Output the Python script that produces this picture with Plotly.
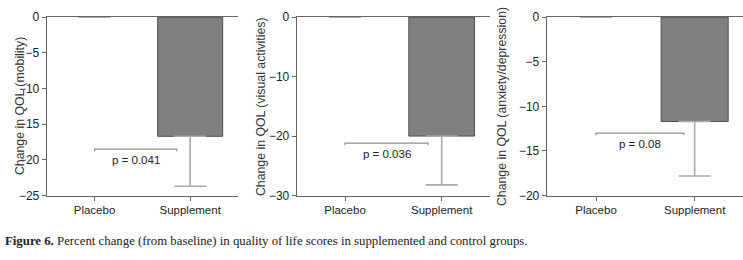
import plotly.graph_objects as go

categories = ["Placebo", "Supplement"]
titles = ["Change in QOL (mobility)", "Change in QOL (visual activities)", "Change in QOL (anxiety/depression)"]
means = [[0, -16.7], [0, -20.0], [0, -11.7]]
err_minus = [[0, 7.0], [0, 8.2], [0, 6.1]]
y_mins = [-25, -30, -20]
y_dticks = [5, 10, 5]
p_labels = ["p = 0.041", "p = 0.036", "p = 0.08"]
bracket_y = [-18.5, -21.2, -13.0]
bracket_x_end = [0.86, 0.86, 0.89]
caption_bold = "Figure 6."
caption_rest = " Percent change (from baseline) in quality of life scores in supplemented and control groups."

W, H = 743, 260
x_domains = [[46.7 / W, 238 / W], [296.7 / W, 490 / W], [546.7 / W, 1.0]]
x_ranges = [[-0.5, 1.5], [-0.5, 1.5], [-0.5, 1.49]]
y_domain = [1 - 199.3 / H, 1 - 10.7 / H]
title_x = [11.7, 261.7, 511.7]

FONT = "Liberation Sans, Arial, sans-serif"
AXC = "#666666"
TXT = "#222"

fig = go.Figure()
layout = dict(width=W, height=H, margin=dict(l=0, r=0, t=0, b=0),
              paper_bgcolor="white", plot_bgcolor="white", showlegend=False,
              font=dict(family=FONT, size=11, color=TXT))
annotations = []
for i in range(3):
    xa = "x" if i == 0 else f"x{i+1}"
    ya = "y" if i == 0 else f"y{i+1}"
    fig.add_trace(go.Bar(
        x=[0, 1], y=means[i], xaxis=xa, yaxis=ya, width=0.68,
        marker=dict(color="#808080", line=dict(color="#505050", width=[0, 1])),
        error_y=dict(type="data", symmetric=False, array=[0, 0], arrayminus=err_minus[i],
                     color="#aaaaaa", thickness=1.6, width=16),
    ))
    tick_h = 0.012 * (-y_mins[i])
    fig.add_trace(go.Scatter(
        x=[0, 0, bracket_x_end[i], bracket_x_end[i]],
        y=[bracket_y[i] - tick_h, bracket_y[i], bracket_y[i], bracket_y[i] - tick_h],
        mode="lines", line=dict(color="#909090", width=1.2), xaxis=xa, yaxis=ya, hoverinfo="skip",
    ))
    annotations.append(dict(x=bracket_x_end[i] / 2, y=bracket_y[i], xref=xa, yref=ya,
                            text=p_labels[i], showarrow=False, yanchor="top", yshift=-3,
                            font=dict(family=FONT, size=11.5, color=TXT)))
    annotations.append(dict(x=title_x[i] / W, y=(y_domain[0] + y_domain[1]) / 2, xref="paper", yref="paper",
                            text=titles[i], showarrow=False, textangle=-90,
                            font=dict(family=FONT, size=12.3, color="#333")))
    kx = "xaxis" if i == 0 else f"xaxis{i+1}"
    ky = "yaxis" if i == 0 else f"yaxis{i+1}"
    layout[kx] = dict(domain=x_domains[i], range=x_ranges[i], anchor=ya,
                      tickmode="array", tickvals=[0, 1], ticktext=categories,
                      showline=True, linecolor=AXC, linewidth=1, mirror=True,
                      ticks="outside", ticklen=4, tickcolor=AXC, showgrid=False, zeroline=False,
                      tickfont=dict(family=FONT, size=11.5, color=TXT), fixedrange=True)
    layout[ky] = dict(domain=y_domain, range=[y_mins[i], 0], anchor=xa,
                      dtick=y_dticks[i], tick0=0,
                      showline=True, linecolor=AXC, linewidth=1,
                      ticks="outside", ticklen=4, tickcolor=AXC, showgrid=False, zeroline=False,
                      tickfont=dict(family=FONT, size=12, color=TXT), fixedrange=True)

annotations.append(dict(x=3 / W, y=1 - 247 / H, xref="paper", yref="paper", xanchor="left", yanchor="middle",
                        text=f"<b>{caption_bold}</b>{caption_rest}", showarrow=False,
                        font=dict(family="Liberation Serif, Times New Roman, serif", size=12.8, color="#222")))
layout["annotations"] = annotations
fig.update_layout(**layout)
fig.write_html("out.html", config={"displayModeBar": False},
               post_script="document.body.style.margin='0';")
